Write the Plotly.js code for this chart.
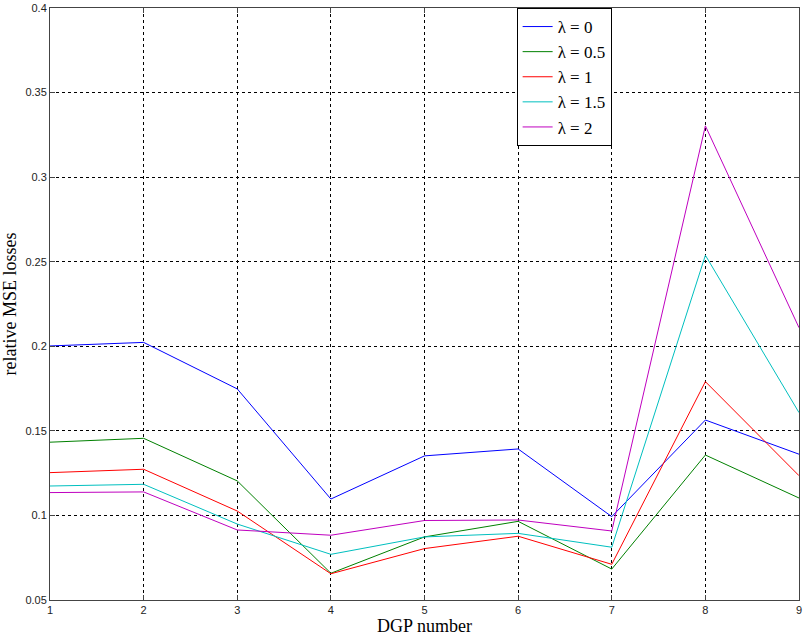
<!DOCTYPE html>
<html>
<head>
<meta charset="utf-8">
<script src="https://cdn.plot.ly/plotly-3.0.1.min.js"></script>
<style>
  html, body { margin: 0; padding: 0; background: #fff; }
  #chart { width: 804px; height: 637px; }
</style>
</head>
<body>
<div id="chart"></div>
<script>
// DGP index on the horizontal axis
const dgp = [1, 2, 3, 4, 5, 6, 7, 8, 9];

// relative MSE losses for each penalty value lambda
const lambda0   = [0.2002, 0.2023, 0.1748, 0.1097, 0.1352, 0.1393, 0.0993, 0.1564, 0.1362];
const lambda05  = [0.1433, 0.1456, 0.1204, 0.0658, 0.0873, 0.0965, 0.0683, 0.1357, 0.1103];
const lambda1   = [0.1253, 0.1273, 0.1026, 0.0655, 0.0804, 0.0877, 0.0711, 0.1791, 0.1235];
const lambda15  = [0.1174, 0.1184, 0.0949, 0.0770, 0.0873, 0.0894, 0.0812, 0.2538, 0.1608];
const lambda2   = [0.1135, 0.1139, 0.0914, 0.0883, 0.0970, 0.0973, 0.0908, 0.3303, 0.2110];

const seriesNames = ['λ = 0', 'λ = 0.5', 'λ = 1', 'λ = 1.5', 'λ = 2'];
const seriesData = [lambda0, lambda05, lambda1, lambda15, lambda2];
const seriesColors = ['#0000ff', '#008000', '#ff0000', '#00bfbf', '#bf00bf'];

const traces = seriesData.map((ys, i) => ({
  x: dgp,
  y: ys,
  type: 'scatter',
  mode: 'lines',
  name: seriesNames[i],
  line: { color: seriesColors[i], width: 1 }
}));

const tickFont = { family: 'Liberation Sans, Arial, sans-serif', size: 11, color: '#222' };
const titleFont = { family: 'Liberation Serif, Times New Roman, serif', size: 18, color: '#000' };

const layout = {
  width: 804,
  height: 637,
  margin: { l: 50, r: 5, t: 8, b: 37 },
  paper_bgcolor: '#fff',
  plot_bgcolor: '#fff',
  showlegend: true,
  legend: {
    x: 0.623, y: 1, xanchor: 'left', yanchor: 'top',
    bgcolor: '#fff', bordercolor: '#000', borderwidth: 1,
    font: { family: 'Liberation Serif, Times New Roman, serif', size: 17, color: '#000' },
    tracegroupgap: 0,
    itemwidth: 30
  },
  xaxis: {
    range: [1, 9],
    tickvals: dgp,
    ticktext: dgp.map(String),
    tickfont: tickFont,
    ticks: 'inside', ticklen: 5, tickcolor: '#444',
    showline: true, linecolor: '#444', linewidth: 1, mirror: 'ticks',
    showgrid: true, gridcolor: '#000', gridwidth: 1, griddash: 'dot',
    zeroline: false,
    title: { text: 'DGP number', font: titleFont, standoff: 4 }
  },
  yaxis: {
    range: [0.05, 0.4],
    tickvals: [0.05, 0.1, 0.15, 0.2, 0.25, 0.3, 0.35, 0.4],
    ticktext: ['0.05', '0.1', '0.15', '0.2', '0.25', '0.3', '0.35', '0.4'],
    tickfont: tickFont,
    ticks: 'inside', ticklen: 5, tickcolor: '#444',
    showline: true, linecolor: '#444', linewidth: 1, mirror: 'ticks',
    showgrid: true, gridcolor: '#000', gridwidth: 1, griddash: 'dot',
    zeroline: false,
    title: { text: 'relative MSE losses', font: titleFont, standoff: 6 }
  }
};

Plotly.newPlot('chart', traces, layout, { displayModeBar: false, staticPlot: true });
</script>
</body>
</html>
